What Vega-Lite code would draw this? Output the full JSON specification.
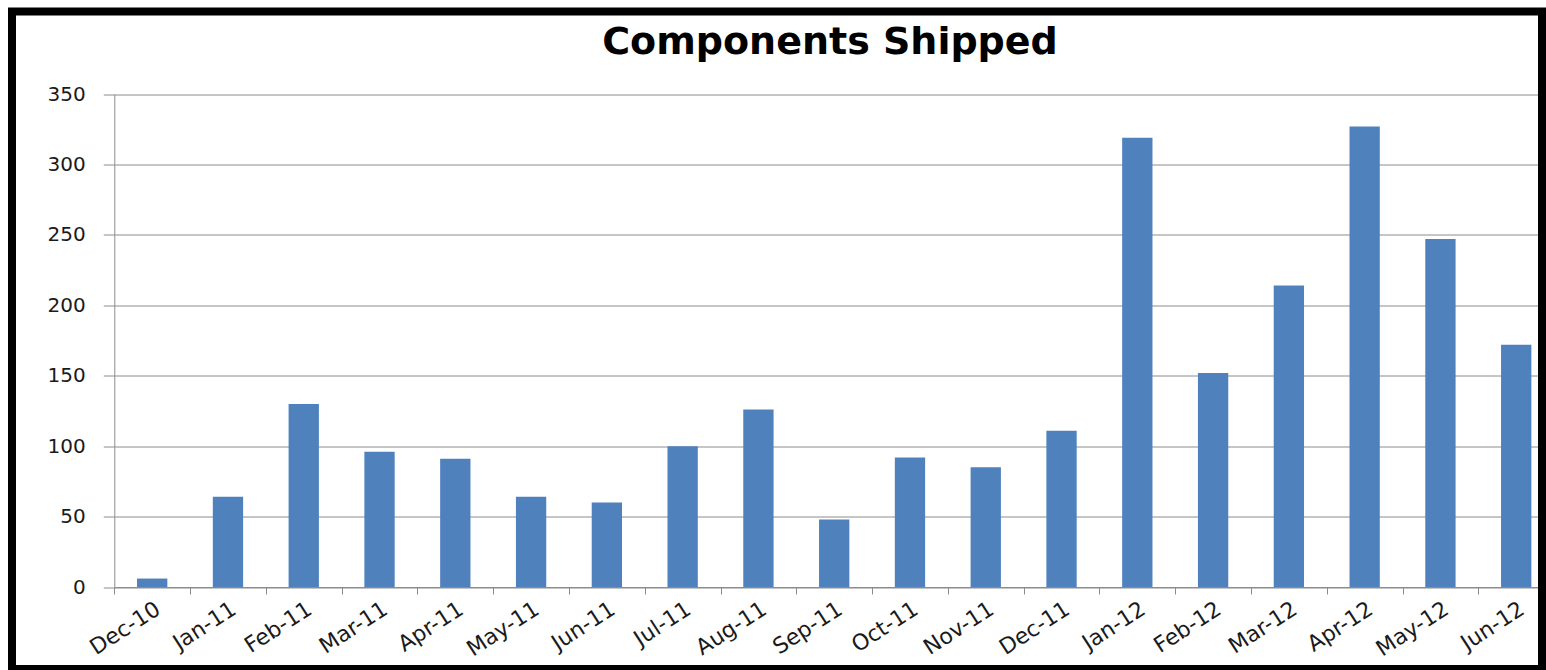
{
  "$schema": "https://vega.github.io/schema/vega-lite/v6.json",
  "width": 1530,
  "height": 657.5,
  "autosize": {"type": "none"},
  "padding": {"left": 12, "top": 11.5, "right": 4, "bottom": 1},
  "background": "white",
  "title": {
    "text": "Components Shipped",
    "font": "DejaVu Sans",
    "fontSize": 38,
    "fontWeight": "bold",
    "color": "black",
    "anchor": "middle",
    "frame": "group",
    "dx": 53,
    "offset": -80.5,
    "baseline": "alphabetic"
  },
  "data": {
    "values": [
      {"month": "Dec-10", "shipped": 6},
      {"month": "Jan-11", "shipped": 64},
      {"month": "Feb-11", "shipped": 130},
      {"month": "Mar-11", "shipped": 96},
      {"month": "Apr-11", "shipped": 91},
      {"month": "May-11", "shipped": 64},
      {"month": "Jun-11", "shipped": 60},
      {"month": "Jul-11", "shipped": 100},
      {"month": "Aug-11", "shipped": 126},
      {"month": "Sep-11", "shipped": 48},
      {"month": "Oct-11", "shipped": 92},
      {"month": "Nov-11", "shipped": 85},
      {"month": "Dec-11", "shipped": 111},
      {"month": "Jan-12", "shipped": 319},
      {"month": "Feb-12", "shipped": 152},
      {"month": "Mar-12", "shipped": 214},
      {"month": "Apr-12", "shipped": 327},
      {"month": "May-12", "shipped": 247},
      {"month": "Jun-12", "shipped": 172}
    ]
  },
  "mark": {"type": "bar", "color": "#4F81BD", "width": {"band": 0.4}},
  "encoding": {
    "x": {
      "field": "month",
      "type": "ordinal",
      "sort": null,
      "scale": {"range": [102.3, 1542.1], "paddingInner": 0, "paddingOuter": 0},
      "axis": {
        "title": null,
        "orient": "bottom",
        "offset": -82,
        "tickBand": "extent",
        "tickSize": 7,
        "labelAngle": -33,
        "labelPadding": 4,
        "labelFont": "DejaVu Sans",
        "labelFontSize": 22,
        "labelColor": "#1a1a1a",
        "domainColor": "#8c8c8c",
        "tickColor": "#8c8c8c",
        "grid": false,
        "labelOverlap": false,
        "labelBound": false
      }
    },
    "y": {
      "field": "shipped",
      "type": "quantitative",
      "scale": {"domain": [0, 350], "range": [575.5, 82.5], "nice": false},
      "axis": {
        "title": null,
        "values": [0, 50, 100, 150, 200, 250, 300, 350],
        "offset": -102.3,
        "tickSize": 11,
        "labelPadding": 18,
        "labelFont": "DejaVu Sans",
        "labelFontSize": 20,
        "labelColor": "#1a1a1a",
        "domainColor": "#8c8c8c",
        "tickColor": "#8c8c8c",
        "grid": true,
        "gridColor": "#8c8c8c",
        "gridOpacity": 1
      }
    }
  },
  "config": {
    "view": {"stroke": "black", "strokeWidth": 8},
    "style": {"cell": {"strokeForeground": true}}
  }
}
